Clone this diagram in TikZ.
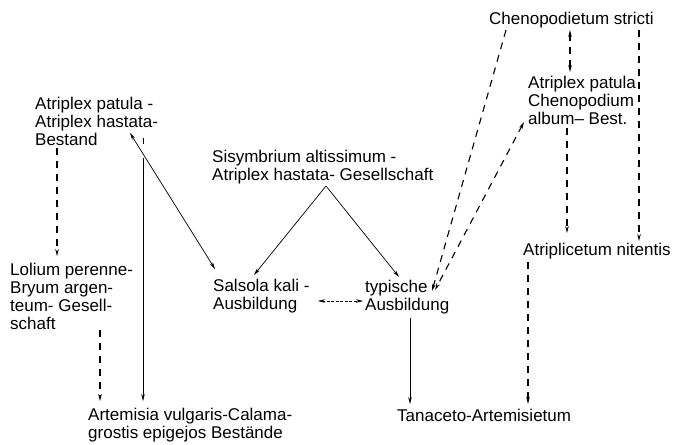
\documentclass[tikz,border=0pt]{standalone}
\usepackage{fontspec}
\setmainfont{Liberation Sans}
\usetikzlibrary{arrows.meta}
\begin{document}
\begin{tikzpicture}[x=1pt,y=-1pt,
  >={Stealth[length=7pt,width=3.6pt]},
  lbl/.style={anchor=north west,inner sep=0pt,align=left,font=\fontsize{17}{18}\selectfont},
  dsh/.style={line width=1.1pt,dash pattern=on 7pt off 6pt},
  sol/.style={line width=0.7pt},
  fine/.style={line width=0.6pt,dash pattern=on 3pt off 1.5pt}]
\useasboundingbox (0,0) rectangle (676,444);
\node[lbl] (chen) at (489,12) {Chenopodietum stricti};
\node[lbl] (apc) at (528,76) {Atriplex patula\\Chenopodium\\album-- Best.};
\node[lbl] (anit) at (523,243) {Atriplicetum nitentis};
\node[lbl] (aph) at (35,97) {Atriplex patula -\\Atriplex hastata-\\Bestand};
\node[lbl] (sis) at (212,150) {Sisymbrium altissimum -\\Atriplex hastata- Gesellschaft};
\node[lbl] (lol) at (10,263) {Lolium perenne-\\Bryum argen-\\teum- Gesell-\\schaft};
\node[lbl] (sal) at (213,279) {Salsola kali -\\Ausbildung};
\node[lbl] (typ) at (365,280) {typische\\Ausbildung};
\node[lbl] (art) at (88,408) {Artemisia vulgaris-Calama-\\grostis epigejos Bestände};
\node[lbl] (tan) at (397,409) {Tanaceto-Artemisietum};
% dashed connectors
\draw[dsh,<->] ([shift={(81,18)}]chen.north west) -- ([shift={(42,-4)}]apc.north west);
\draw[dsh,->] ([shift={(150,18)}]chen.north west) -- ([shift={(116,-2)}]anit.north west);
\draw[dsh,->] ([shift={(39,52)}]apc.north west) -- ([shift={(44,-10)}]anit.north west);
\draw[dsh,->] ([shift={(17,18)}]chen.north west) -- ([shift={(67,11)}]typ.north west);
\draw[dsh,<->] ([shift={(-4,46)}]apc.north west) -- ([shift={(70,10)}]typ.north west);
\draw[dsh,->] ([shift={(22,51)}]aph.north west) -- ([shift={(47,-7)}]lol.north west);
\draw[dsh,->] ([shift={(90,67)}]lol.north west) -- ([shift={(12,-7)}]art.north west);
\draw[dsh,->] ([shift={(5,19)}]anit.north west) -- ([shift={(131,-5)}]tan.north west);
% thin line
\draw[line width=0.6pt,dash pattern=on 6pt off 14pt on 300pt,->] ([shift={(108,41)}]aph.north west) -- ([shift={(55,-7)}]art.north west);
% solid connectors
\draw[sol,<->] ([shift={(95,36)}]aph.north west) -- ([shift={(2,-10)}]sal.north west);
\draw[sol,->] ([shift={(114,36)}]sis.north west) -- ([shift={(41,-4)}]sal.north west);
\draw[sol,->] ([shift={(114,36)}]sis.north west) -- ([shift={(34,-3)}]typ.north west);
\draw[fine,<->] ([shift={(105,22)}]sal.north west) -- ([shift={(-2,21)}]typ.north west);
\draw[sol,->] ([shift={(45,38)}]typ.north west) -- ([shift={(13,-5)}]tan.north west);
\end{tikzpicture}
\end{document}
